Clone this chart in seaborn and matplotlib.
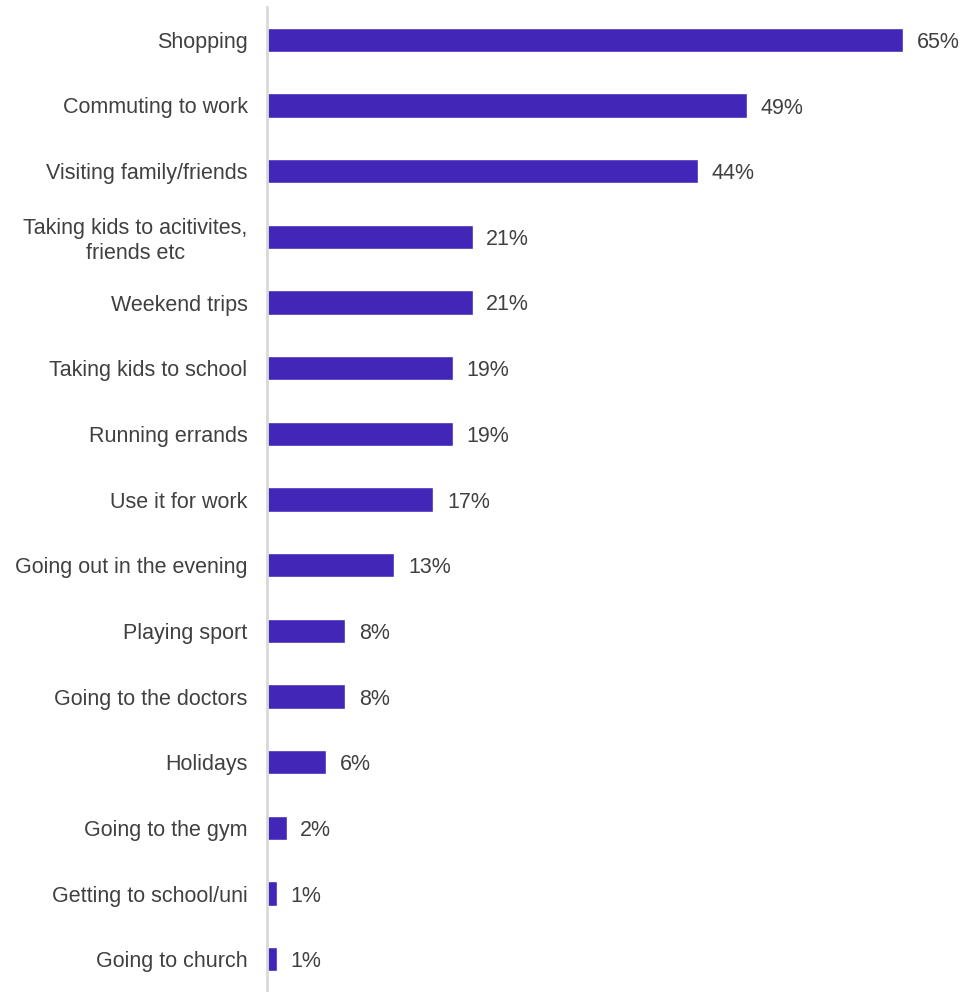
import matplotlib
matplotlib.use("Agg")
import matplotlib.pyplot as plt
import seaborn as sns
import pandas as pd

categories = [
    "Shopping", "Commuting to work", "Visiting family/friends",
    "Taking kids to acitivites,\nfriends etc", "Weekend trips",
    "Taking kids to school", "Running errands", "Use it for work",
    "Going out in the evening", "Playing sport", "Going to the doctors",
    "Holidays", "Going to the gym", "Getting to school/uni", "Going to church",
]
values = [65, 49, 44, 21, 21, 19, 19, 17, 13, 8, 8, 6, 2, 1, 1]

df = pd.DataFrame({"activity": categories, "share": values})

sns.set_style("white")
plt.rcParams["font.family"] = ["Liberation Sans", "DejaVu Sans"]

fig = plt.figure(figsize=(9.62, 9.92), dpi=100)
ax = fig.add_axes([267 / 962, 0.0, (962 - 267) / 962, 985 / 992])

sns.barplot(data=df, y="activity", x="share", orient="h", color="#4226B8",
            saturation=1, width=0.37, ax=ax)

ax.set_xlim(0, 71)
ax.set_ylim(14.5, -0.5)
ax.set_xlabel("")
ax.set_ylabel("")
ax.set_xticks([])
ax.tick_params(axis="y", length=0, pad=14, labelsize=15.5, labelcolor="#404040")
for lbl in ax.get_yticklabels():
    lbl.set_multialignment("center")
    lbl.set_linespacing(1.25)
    lbl.set_va("center_baseline")

for side in ("top", "right", "bottom"):
    ax.spines[side].set_visible(False)
ax.spines["left"].set_color("#d9d9d9")
ax.spines["left"].set_linewidth(2)

for i, v in enumerate(values):
    ax.text(v + 1.4, i, f"{v}%", va="center_baseline", ha="left",
            fontsize=15.5, color="#404040")

fig.savefig("out.png", dpi=100)
